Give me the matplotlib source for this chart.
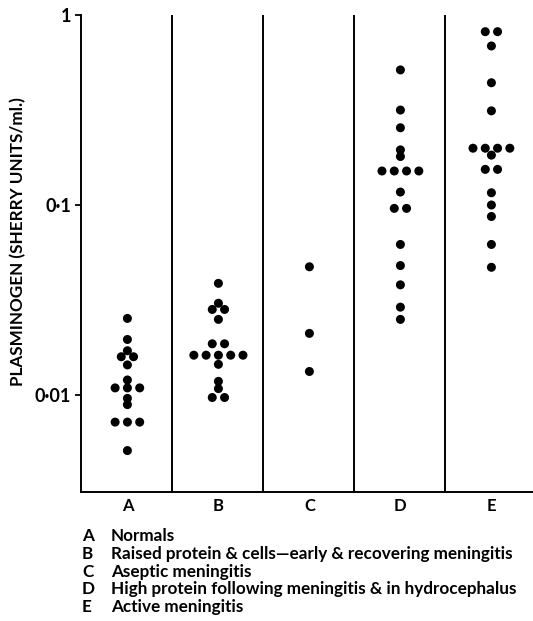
import matplotlib
matplotlib.use("Agg")
import matplotlib.pyplot as plt
import numpy as np

plt.rcParams['font.family'] = ['Lato', 'DejaVu Sans']

# ---- data ----
categories = ["A", "B", "C", "D", "E"]
descriptions = [
    "Normals",
    "Raised protein & cells\u2014early & recovering meningitis",
    "Aseptic meningitis",
    "High protein following meningitis & in hydrocephalus",
    "Active meningitis",
]
values_A = [0.0253, 0.0196, 0.0171, 0.0159, 0.0159, 0.0144, 0.0120,
            0.0109, 0.0109, 0.0109, 0.0096, 0.0089, 0.0072, 0.0072, 0.0072, 0.0051]
values_B = [0.0387, 0.0304, 0.0282, 0.0282, 0.0250, 0.0186, 0.0186,
            0.0162, 0.0162, 0.0162, 0.0162, 0.0162, 0.0145, 0.0118, 0.0108, 0.0097, 0.0097]
values_C = [0.0473, 0.0211, 0.0133]
values_D = [0.514, 0.316, 0.255, 0.195, 0.180, 0.151, 0.151, 0.151, 0.151,
            0.117, 0.096, 0.096, 0.062, 0.048, 0.038, 0.029, 0.025]
values_E = [0.817, 0.817, 0.687, 0.440, 0.313, 0.199, 0.199, 0.199, 0.199,
            0.183, 0.154, 0.154, 0.116, 0.100, 0.087, 0.062, 0.047]

# horizontal slot positions (layout of the dot swarm, in dot spacings)
slots_A = [0, 0, 0, -0.5, 0.5, 0, 0, -1, 0, 1, 0, 0, -1, 0, 1, 0]
slots_B = [0, 0, -0.5, 0.5, 0, -0.5, 0.5, -2, -1, 0, 1, 2, 0, 0, 0, -0.5, 0.5]
slots_C = [0, 0, 0]
slots_D = [0, 0, 0, 0, 0, -1.5, -0.5, 0.5, 1.5, 0, -0.5, 0.5, 0, 0, 0, 0, 0]
slots_E = [-0.5, 0.5, 0, 0, 0, -1.5, -0.5, 0.5, 1.5, 0, -0.5, 0.5, 0, 0, 0, 0, 0]

groups = [values_A, values_B, values_C, values_D, values_E]
slots = [slots_A, slots_B, slots_C, slots_D, slots_E]

W, H = 533, 621
fig = plt.figure(figsize=(W / 100, H / 100), dpi=100)
ax_left, ax_right, ax_top, ax_bottom = 81, 536, 15, 492
ax = fig.add_axes([ax_left / W, 1 - ax_bottom / H,
                   (ax_right - ax_left) / W, (ax_bottom - ax_top) / H])

slot_w = 0.135
for i, (vals, sl) in enumerate(zip(groups, slots)):
    x = i + 0.51 + np.array(sl) * slot_w
    ax.scatter(x, vals, s=42, color='black', edgecolors='none', zorder=3)

ax.set_yscale('log')
ax.set_ylim(10 ** -2.5105, 1)
ax.set_xlim(0, 5)

for d in range(1, 5):
    ax.axvline(d, color='black', lw=1.4, zorder=2)

for s in ['top', 'right']:
    ax.spines[s].set_visible(False)
for s in ['left', 'bottom']:
    ax.spines[s].set_linewidth(1.4)

ax.yaxis.set_minor_locator(matplotlib.ticker.NullLocator())
ax.set_yticks([0.01, 0.1, 1])
ax.set_yticklabels(["0\u00b701", "0\u00b71", "1"], fontsize=13, fontweight='bold')
ax.tick_params(axis='y', direction='out', length=4, width=1.3, pad=3)

ax.set_xticks([i + 0.51 for i in range(5)])
ax.set_xticklabels(categories, fontsize=12, fontweight='bold')
ax.tick_params(axis='x', length=0, pad=4)

fig.text(18 / W, 1 - 242 / H, "PLASMINOGEN (SHERRY UNITS/ml.)", rotation=90,
         ha='center', va='center', fontsize=12.3, fontweight='bold')

base0 = 541
for k, (c, d) in enumerate(zip(categories, descriptions)):
    yy = 1 - (base0 + k * 17.8) / H
    fig.text(82 / W, yy, c, ha='left', va='baseline', fontsize=12.3, fontweight='bold')
    fig.text(111 / W, yy, d, ha='left', va='baseline', fontsize=12.3, fontweight='bold')

fig.savefig("out.png", dpi=100)
